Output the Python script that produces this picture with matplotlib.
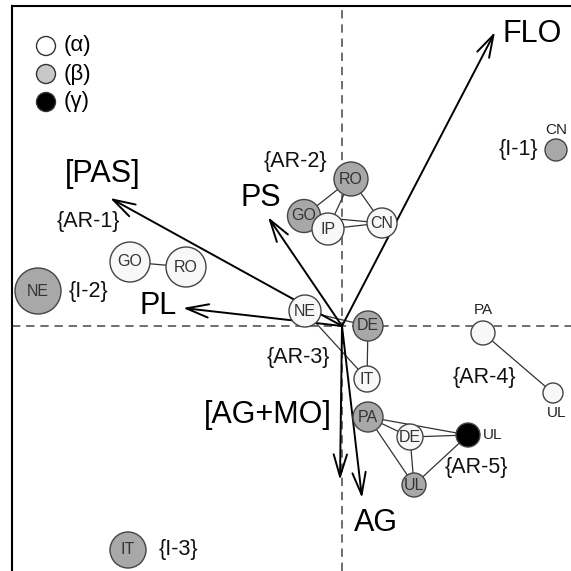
import matplotlib.pyplot as plt
from matplotlib.patches import Circle, FancyArrowPatch

plt.rcParams['font.family'] = ['Liberation Sans', 'DejaVu Sans']

# variable arrows (biplot loadings)
arrow_names = ["FLO", "[PAS]", "PS", "PL", "[AG+MO]", "AG"]
arrow_x = [1.53, -2.32, -0.74, -1.59, -0.02, 0.20]
arrow_y = [2.94, 1.28, 1.09, 0.18, -1.54, -1.72]
arrow_lab_x = [1.90, -2.39, -0.81, -1.84, -0.74, 0.34]
arrow_lab_y = [2.92, 1.52, 1.28, 0.20, -0.89, -1.97]

# sample nodes
node_names = ["GO", "RO", "NE", "RO", "GO", "IP", "CN", "CN", "NE", "DE", "IT",
              "PA", "UL", "PA", "DE", "UL", "UL", "IT"]
node_x = [-2.12, -1.56, -3.04, 0.09, -0.38, -0.14, 0.40, 2.14, -0.37, 0.26, 0.25,
          1.41, 2.11, 0.26, 0.68, 0.72, 1.26, -2.14]
node_y = [0.64, 0.59, 0.35, 1.47, 1.10, 0.97, 1.03, 1.76, 0.15, 0.00, -0.53,
          -0.07, -0.67, -0.91, -1.11, -1.59, -1.09, -2.24]
node_size = [0.20, 0.20, 0.23, 0.17, 0.165, 0.16, 0.15, 0.11, 0.16, 0.15, 0.13,
             0.12, 0.10, 0.15, 0.13, 0.12, 0.12, 0.18]
node_class = ["a", "a", "b", "b", "b", "a", "a", "b", "a", "b", "a",
              "a", "a", "b", "a", "b", "c", "b"]
# where the name goes: inside, or outside (dx, dy)
node_lab_off = [None, None, None, None, None, None, None, (0.0, 0.20), None, None, None,
                (0.0, 0.23), (0.04, -0.20), None, None, None, (0.25, 0.0), None]

edges = [(0, 1), (3, 4), (3, 5), (3, 6), (4, 6), (5, 6), (8, 9), (8, 10), (9, 10),
         (11, 12), (13, 14), (13, 16), (13, 15), (14, 16), (14, 15), (15, 16)]

group_names = ["{AR-1}", "{AR-2}", "{AR-3}", "{AR-4}", "{AR-5}", "{I-1}", "{I-2}", "{I-3}"]
group_x = [-2.54, -0.47, -0.44, 1.42, 1.34, 1.76, -2.54, -1.64]
group_y = [1.05, 1.65, -0.31, -0.51, -1.42, 1.76, 0.35, -2.24]

legend_names = ["(α)", "(β)", "(γ)"]
class_fill = {"a": "#f8f8f8", "b": "#a8a8a8", "c": "#000000"}
legend_fill = ["#ffffff", "#c8c8c8", "#000000"]

fig = plt.figure(figsize=(5.71, 5.71), dpi=100)
ax = fig.add_axes([12 / 571, 0, 559 / 571, 565 / 571])
ax.set_xlim(-3.30, 2.29)
ax.set_ylim(-2.45, 3.20)
ax.set_xticks([])
ax.set_yticks([])
for s in ["right", "bottom"]:
    ax.spines[s].set_visible(False)
for s in ["top", "left"]:
    ax.spines[s].set_linewidth(1.5)

ax.axhline(0, color="#555555", lw=1.2, dashes=(5, 3.5), zorder=1)
ax.axvline(0, color="#555555", lw=1.2, dashes=(5, 3.5), zorder=1)

# edges between nodes
for i, j in edges:
    ax.plot([node_x[i], node_x[j]], [node_y[i], node_y[j]], color="#333333", lw=0.9, zorder=2)

# arrows
for name, x, y, lx, ly in zip(arrow_names, arrow_x, arrow_y, arrow_lab_x, arrow_lab_y):
    ax.add_patch(FancyArrowPatch((0, 0), (x, y), arrowstyle="->,head_length=1.0,head_width=0.3",
                                 mutation_scale=16, lw=1.4, color="black", shrinkA=0, shrinkB=0,
                                 zorder=3))
    ax.text(lx, ly, name, fontsize=22, ha="center", va="center", zorder=5)

# nodes
for name, x, y, r, c, off in zip(node_names, node_x, node_y, node_size, node_class, node_lab_off):
    ax.add_patch(Circle((x, y), r, facecolor=class_fill[c], edgecolor="#444444", lw=1.0, zorder=4))
    if off is None:
        ax.text(x, y, name, fontsize=11.5, ha="center", va="center", color="#333333", zorder=5)
    else:
        ax.text(x + off[0], y + off[1], name, fontsize=11, ha="center", va="center",
                color="#222222", zorder=5)

for name, x, y in zip(group_names, group_x, group_y):
    ax.text(x, y, name, fontsize=15.5, ha="center", va="center", color="#111111", zorder=5)

# legend
for k, (name, fc) in enumerate(zip(legend_names, legend_fill)):
    ly = 2.80 - k * 0.28
    ax.add_patch(Circle((-2.96, ly), 0.095, facecolor=fc, edgecolor="#333333", lw=1.0, zorder=4))
    ax.text(-2.78, ly, name, fontsize=16, ha="left", va="center", zorder=5)

fig.savefig("out.png", dpi=100)
